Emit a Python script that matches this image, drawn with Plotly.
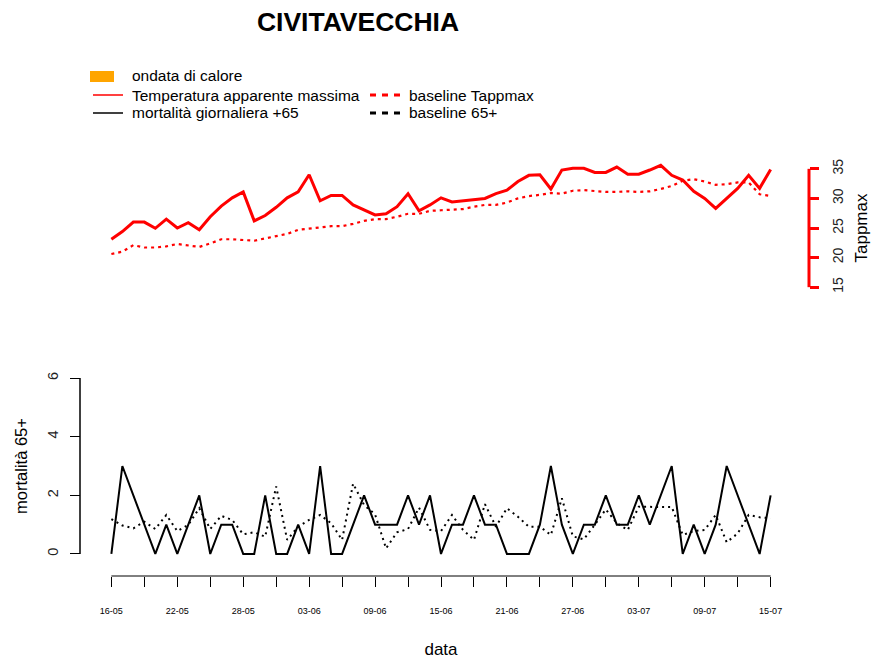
import pandas as pd
import plotly.graph_objects as go

# ---------------- data ----------------
dates = pd.date_range("2022-05-16", "2022-07-15").strftime("%d-%m").tolist()

tappmax = [23.1, 24.4, 26.0, 26.0, 24.95, 26.5, 25.0, 25.9, 24.7, 26.9,
           28.7, 30.1, 31.1, 26.2, 27.1, 28.5, 30.1, 31.1, 34.0, 29.6,
           30.5, 30.5, 28.9, 28.05, 27.2, 27.4, 28.6, 30.8, 27.9, 28.9,
           30.1, 29.4, 29.6, 29.9, 30.0, 30.8, 31.4, 32.85, 33.9, 34.0,
           31.6, 34.8, 35.1, 35.1, 34.4, 34.4, 35.3, 34.1, 34.1, 34.8,
           35.6, 33.9, 33.1, 31.2, 30.0, 28.3, 30.0, 31.7, 33.9, 31.7, 34.9]

baseline_tappmax = [20.6, 21.0, 22.1, 21.7, 21.7, 21.9, 22.3, 22.0, 21.8, 22.4,
                    23.1, 23.1, 23.0, 22.85, 23.25, 23.6, 24.0, 24.7, 24.95, 25.1,
                    25.3, 25.3, 25.7, 26.2, 26.5, 26.5, 26.9, 27.4, 27.4, 27.9,
                    28.0, 28.1, 28.2, 28.6, 28.9, 28.9, 29.3, 30.0, 30.4, 30.6,
                    30.9, 30.8, 31.3, 31.4, 31.2, 31.1, 31.1, 31.2, 31.1, 31.2,
                    31.6, 32.1, 33.0, 33.25, 32.85, 32.3, 32.4, 32.7, 32.7, 30.7, 30.4]

mortalita = [0, 3, 2, 1, 0, 1, 0, 1, 2, 0,
             1, 1, 0, 0, 2, 0, 0, 1, 0, 3,
             0, 0, 1, 2, 1, 1, 1, 2, 1, 2,
             0, 1, 1, 2, 1, 1, 0, 0, 0, 1,
             3, 1, 0, 1, 1, 2, 1, 1, 2, 1,
             2, 3, 0, 1, 0, 1, 3, 2, 1, 0, 2]

baseline_65 = [1.19, 0.97, 0.875, 1.1, 0.85, 1.33, 0.78, 0.99, 1.56, 0.85,
               1.3, 1.16, 0.67, 0.74, 0.59, 2.3, 0.48, 0.93, 1.16, 1.33,
               1.05, 0.48, 2.4, 1.67, 1.35, 0.19, 0.74, 0.85, 1.58, 0.82,
               0.78, 1.33, 0.82, 0.48, 1.7, 0.93, 1.56, 1.27, 0.93, 0.93,
               0.65, 1.9, 0.6, 0.5, 1.0, 1.52, 1.05, 0.82, 1.61, 1.61,
               1.6, 1.6, 0.65, 0.78, 0.82, 1.33, 0.4, 0.7, 1.33, 1.25, 1.22]

tapp_ticks = [15, 20, 25, 30, 35]
mort_ticks = [0, 2, 4, 6]

legend_labels = ["ondata di calore",
                 "Temperatura apparente massima", "baseline Tappmax",
                 "mortalità giornaliera +65", "baseline 65+"]

# ---------------- layout helpers ----------------
OFF = 8                      # page body margin of the browser
W, H = 882 - OFF, 660 - OFF
FONT = "Liberation Sans, Arial, sans-serif"
px = lambda x: (x - OFF) / W
py = lambda y: 1 - (y - OFF) / H

idx = list(range(len(dates)))
major = idx[::6]
minor = [i for i in idx[::3] if i not in major]

fig = go.Figure()

# top panel
fig.add_trace(go.Scatter(x=idx, y=baseline_tappmax, mode="lines", yaxis="y2",
                         name=legend_labels[2],
                         line=dict(color="red", width=2.2, dash="3px,4px")))
fig.add_trace(go.Scatter(x=idx, y=tappmax, mode="lines", yaxis="y2",
                         name=legend_labels[1],
                         line=dict(color="red", width=3)))
# bottom panel
fig.add_trace(go.Scatter(x=idx, y=baseline_65, mode="lines", yaxis="y",
                         name=legend_labels[4],
                         line=dict(color="black", width=2, dash="2px,4px")))
fig.add_trace(go.Scatter(x=idx, y=mortalita, mode="lines", yaxis="y",
                         name=legend_labels[3],
                         line=dict(color="black", width=2)))

# ---------------- manual legend (R style) ----------------
shapes = []
annotations = []
rows_y = [76, 95, 113]
col_sym = [(93, 123), (370, 402)]
col_txt = [130, 407]
leg_items = [
    (0, 0, legend_labels[0], "box", None),
    (1, 0, legend_labels[1], "line", dict(color="red", width=1.5)),
    (1, 1, legend_labels[2], "line", dict(color="red", width=3, dash="6px,6px")),
    (2, 0, legend_labels[3], "line", dict(color="black", width=1.5)),
    (2, 1, legend_labels[4], "line", dict(color="black", width=3, dash="6px,6px")),
]
for r, c, label, kind, ln in leg_items:
    yy = rows_y[r]
    if kind == "box":
        shapes.append(dict(type="rect", xref="paper", yref="paper",
                           x0=px(90), x1=px(114), y0=py(82), y1=py(71),
                           fillcolor="orange", line=dict(width=0)))
    else:
        shapes.append(dict(type="line", xref="paper", yref="paper",
                           x0=px(col_sym[c][0]), x1=px(col_sym[c][1]),
                           y0=py(yy), y1=py(yy), line=ln))
    annotations.append(dict(text=label, xref="paper", yref="paper",
                            x=px(col_txt[c]), y=py(yy), xanchor="left",
                            yanchor="middle", showarrow=False,
                            font=dict(size=15.5, family=FONT, color="black")))

# ---------------- axes lines (R style, spanning the ticks only) ----------------
x_axis_y = py(576)
shapes += [
    dict(type="line", xref="x", yref="paper", x0=major[0], x1=major[-1],
         y0=x_axis_y, y1=x_axis_y, line=dict(color="black", width=1)),
    dict(type="line", xref="paper", yref="y", x0=px(80), x1=px(80),
         y0=mort_ticks[0], y1=mort_ticks[-1], line=dict(color="black", width=1.5)),
    dict(type="line", xref="paper", yref="y2", x0=px(809), x1=px(809),
         y0=tapp_ticks[0], y1=tapp_ticks[-1], line=dict(color="red", width=3)),
]

fig.update_layout(
    width=W, height=H,
    margin=dict(l=0, r=0, t=0, b=0),
    paper_bgcolor="white", plot_bgcolor="white",
    font=dict(family=FONT, color="black"),
    title=dict(text="<b>CIVITAVECCHIA</b>", x=px(358), y=py(22),
               xanchor="center", yanchor="middle",
               font=dict(size=26.5, family=FONT, color="black")),
    showlegend=False,
    xaxis=dict(domain=[px(85), px(797)], range=[-2.4, 62.4],
               anchor="free", position=x_axis_y,
               showgrid=False, zeroline=False, showline=False,
               ticks="outside", ticklen=10, tickwidth=1, tickcolor="black",
               tickmode="array", tickvals=major,
               ticktext=[dates[i] for i in major],
               tickfont=dict(size=9, family=FONT, color="black"),
               ticklabelstandoff=16,
               minor=dict(ticks="outside", ticklen=10, tickwidth=1,
                          tickcolor="black", tickmode="array", tickvals=minor,
                          showgrid=False),
               title=dict(text="data", font=dict(size=17, family=FONT), standoff=28)),
    yaxis=dict(domain=[py(561), py(371)], range=[-0.24, 6.24],
               anchor="free", position=px(80), side="left",
               showgrid=False, zeroline=False, showline=False,
               ticks="outside", ticklen=10, tickwidth=1, tickcolor="black",
               tickmode="array", tickvals=mort_ticks, tickangle=-90,
               tickfont=dict(size=14.5, family=FONT, color="#222"),
               ticklabelstandoff=6,
               title=dict(text="mortalità 65+", font=dict(size=16.5, family=FONT),
                          standoff=12)),
    yaxis2=dict(domain=[py(299), py(157)], range=[13, 37],
                anchor="free", position=px(809), side="right",
                showgrid=False, zeroline=False, showline=False,
                ticks="outside", ticklen=9, tickwidth=3, tickcolor="red",
                tickmode="array", tickvals=tapp_ticks, tickangle=-90,
                tickfont=dict(size=14, family=FONT, color="#222"),
                ticklabelstandoff=7,
                title=dict(text="Tappmax", font=dict(size=17, family=FONT),
                           standoff=10)),
    shapes=shapes,
    annotations=annotations,
)

fig.write_html("out.html")
